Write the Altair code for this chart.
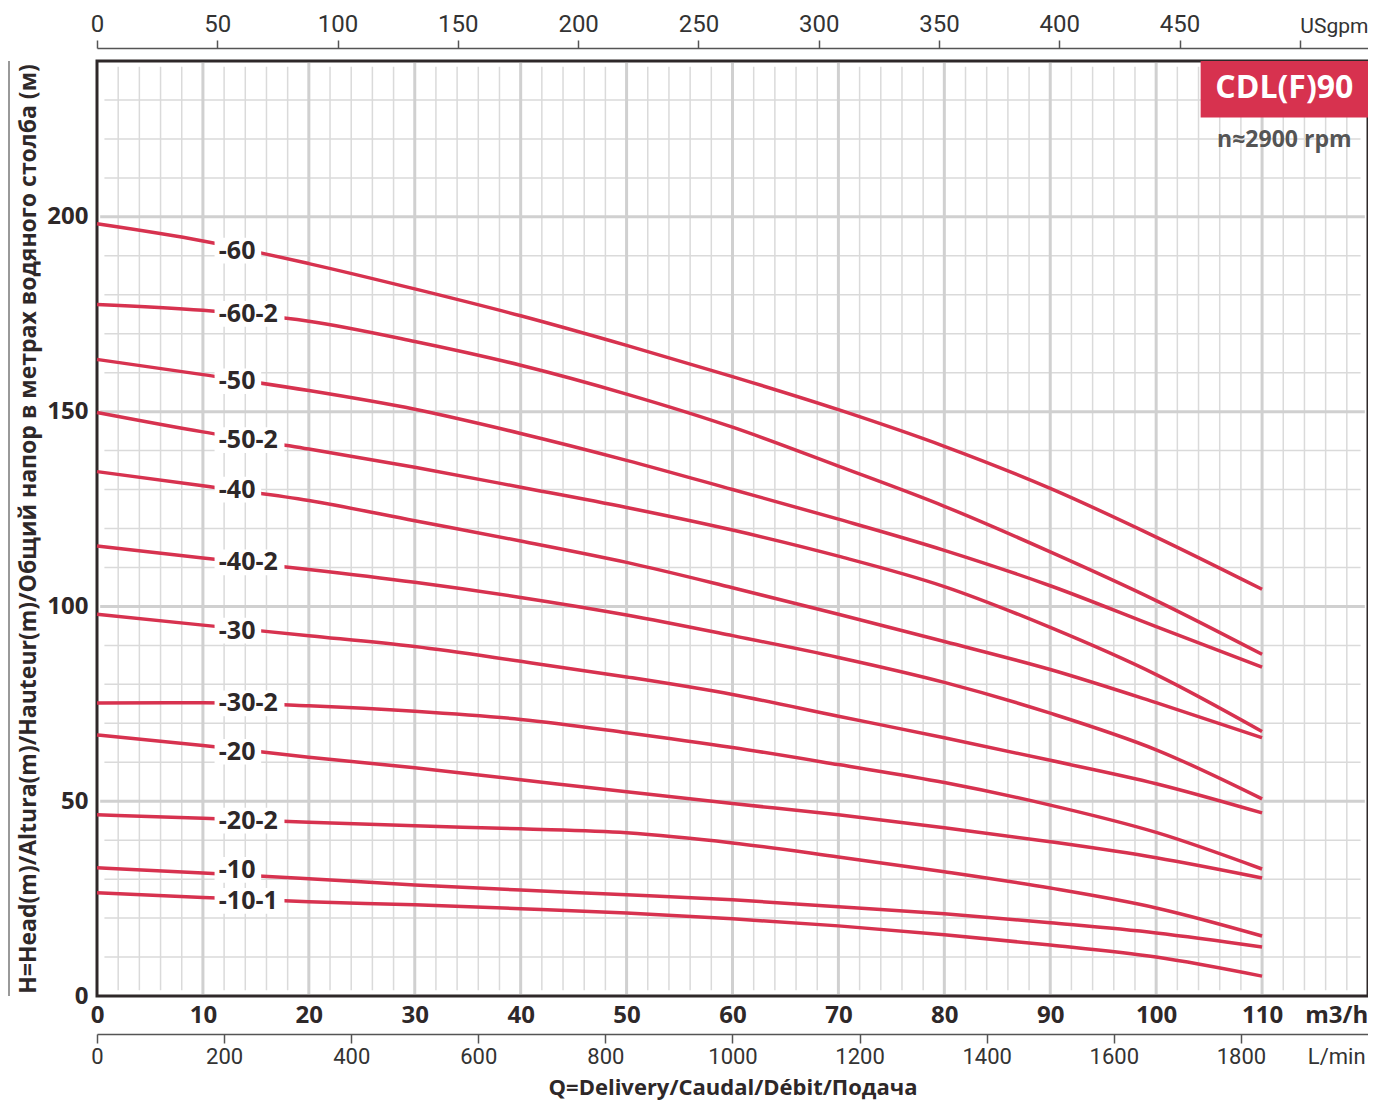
import altair as alt
import pandas as pd

# ---------------- data ----------------
Q_POINTS = [0, 10, 20, 30, 40, 50, 60, 70, 80, 90, 100, 110]  # m3/h
CURVES = ["-60", "-60-2", "-50", "-50-2", "-40", "-40-2",
          "-30", "-30-2", "-20", "-20-2", "-10", "-10-1"]
H_60   = [198.2, 193.8, 188.0, 181.5, 174.6, 167.0, 159.0, 150.5, 141.1, 130.3, 117.8, 104.4]
H_60_2 = [177.5, 176.0, 173.2, 168.0, 161.9, 154.5, 146.0, 136.0, 125.7, 114.0, 101.5, 87.7]
H_50   = [163.4, 159.5, 155.4, 150.6, 144.4, 137.5, 130.0, 122.4, 114.4, 105.3, 94.8, 84.4]
H_50_2 = [149.8, 144.8, 140.4, 135.7, 130.6, 125.4, 119.6, 112.9, 105.1, 94.6, 82.5, 67.9]
H_40   = [134.6, 131.0, 127.2, 122.0, 116.8, 111.3, 104.8, 98.0, 91.0, 83.8, 75.3, 66.3]
H_40_2 = [115.5, 112.4, 109.5, 106.2, 102.3, 97.8, 92.5, 86.9, 80.5, 72.6, 63.2, 50.6]
H_30   = [98.0, 95.2, 92.5, 89.7, 85.9, 81.9, 77.4, 71.8, 66.3, 60.5, 54.5, 47.0]
H_30_2 = [75.2, 75.3, 74.5, 73.1, 71.0, 67.6, 63.8, 59.4, 54.8, 49.0, 42.0, 32.6]
H_20   = [67.0, 64.3, 61.3, 58.6, 55.5, 52.4, 49.4, 46.5, 43.2, 39.6, 35.5, 30.3]
H_20_2 = [46.5, 45.6, 44.6, 43.7, 42.9, 41.9, 39.3, 35.7, 31.9, 27.7, 22.6, 15.4]
H_10   = [32.9, 31.6, 30.1, 28.5, 27.2, 26.0, 24.7, 22.9, 21.1, 18.8, 16.2, 12.6]
H_10_1 = [26.5, 25.3, 24.2, 23.4, 22.4, 21.3, 19.8, 18.0, 15.7, 13.1, 10.0, 5.1]
HEADS = [H_60, H_60_2, H_50, H_50_2, H_40, H_40_2, H_30, H_30_2, H_20, H_20_2, H_10, H_10_1]

LABEL_X = 11.5
LABEL_Y = [191.3, 175.1, 157.8, 142.7, 130.0, 111.3, 93.8, 75.1, 62.7, 45.0, 32.4, 24.4]

X_TICKS = [0, 10, 20, 30, 40, 50, 60, 70, 80, 90, 100, 110]
Y_TICKS = [0, 50, 100, 150, 200]
LMIN_TICKS = [0, 200, 400, 600, 800, 1000, 1200, 1400, 1600, 1800]
GPM_TICKS = [0, 50, 100, 150, 200, 250, 300, 350, 400, 450]
X_MAX, Y_MAX = 120, 240
M3H_TO_LMIN = 1000 / 60
M3H_TO_GPM = 4.40287

TITLE_BADGE = "CDL(F)90"
TITLE_RPM = "n≈2900 rpm"
Y_TITLE = "H=Head(m)/Altura(m)/Hauteur(m)/Общий напор в метрах водяного столба (м)"
X_TITLE = "Q=Delivery/Caudal/Débit/Подача"

RED = "#d7324f"
DARK = "#2e2829"
GRAY = "#555555"

# ---------------- tables ----------------
lines_df = pd.DataFrame(
    [{"q": q, "h": h, "curve": c} for c, hs in zip(CURVES, HEADS) for q, h in zip(Q_POINTS, hs)]
)
labels_df = pd.DataFrame({
    "name": CURVES,
    "lx": [LABEL_X] * len(CURVES),
    "ly": LABEL_Y,
    "bx0": [LABEL_X - 0.4] * len(CURVES),
    "bx1": [LABEL_X - 0.4 + 1.1 * (len(c) + 1) for c in CURVES],
    "by0": [y - 3.3 for y in LABEL_Y],
    "by1": [y + 3.3 for y in LABEL_Y],
})
v_minor = pd.DataFrame({"gx": [v for v in range(2, X_MAX, 2) if v % 10], "g0": 1.5, "g1": Y_MAX - 1.5})
v_major = pd.DataFrame({"gx": list(range(10, X_MAX, 10)), "g0": 0.5, "g1": Y_MAX - 0.5})
h_minor = pd.DataFrame({"gy": [v for v in range(10, Y_MAX, 10) if v % 50], "g0": 0.7, "g1": X_MAX - 0.7})
h_major = pd.DataFrame({"gy": list(range(50, Y_MAX, 50)), "g0": 0.3, "g1": X_MAX - 0.3})
badge_df = pd.DataFrame({"bx0": [104.2], "bx1": [X_MAX], "by0": [225.5], "by1": [Y_MAX],
                         "tx": [112.1], "ty": [233.0], "ry": [219.8],
                         "t1": [TITLE_BADGE], "t2": [TITLE_RPM]})

# ---------------- scales / axes ----------------
XS = alt.Scale(domain=[0, X_MAX], nice=False, zero=False)
YS = alt.Scale(domain=[0, Y_MAX], nice=False, zero=False)
X_AXIS = alt.Axis(
    orient="bottom", values=X_TICKS + [117],
    labelExpr="datum.value == 117 ? 'm3/h' : datum.label",
    domain=False, ticks=False, tickSize=0, grid=False,
    labelFont="Open Sans", labelFontWeight="bold", labelFontSize=24, labelColor=DARK,
    labelPadding=7, labelFlush=False, labelOverlap=False, title=None,
)
Y_AXIS = alt.Axis(
    values=Y_TICKS, domain=False, ticks=False, tickSize=0, grid=False,
    labelFont="Open Sans", labelFontWeight="bold", labelFontSize=24, labelColor=DARK,
    labelPadding=9, labelOverlap=False, title=Y_TITLE,
    titleFont="Open Sans", titleFontWeight="bold", titleFontSize=23, titleColor=DARK,
    titlePadding=6,
)


def xe(f):
    return alt.X(f, type="quantitative", scale=XS, axis=X_AXIS)


def ye(f):
    return alt.Y(f, type="quantitative", scale=YS, axis=Y_AXIS)


grid_vm = alt.Chart(v_minor).mark_rule(color="#dadada", strokeWidth=1.5).encode(
    x=xe("gx"), y=ye("g0"), y2=alt.Y2("g1"))
grid_vM = alt.Chart(v_major).mark_rule(color="#d0d0d0", strokeWidth=3).encode(
    x=xe("gx"), y=ye("g0"), y2=alt.Y2("g1"))
grid_hm = alt.Chart(h_minor).mark_rule(color="#dadada", strokeWidth=1.5).encode(
    y=ye("gy"), x=xe("g0"), x2=alt.X2("g1"))
grid_hM = alt.Chart(h_major).mark_rule(color="#d0d0d0", strokeWidth=3).encode(
    y=ye("gy"), x=xe("g0"), x2=alt.X2("g1"))

curves = alt.Chart(lines_df).mark_line(interpolate="monotone", color=RED, strokeWidth=3.5).encode(
    x=xe("q"), y=ye("h"), detail="curve:N")

boxes = alt.Chart(labels_df).mark_rect(color="white").encode(
    x=xe("bx0"), x2=alt.X2("bx1"), y=ye("by0"), y2=alt.Y2("by1"))
texts = alt.Chart(labels_df).mark_text(
    align="left", baseline="middle", font="Open Sans", fontWeight="bold",
    fontSize=25, color=DARK).encode(x=xe("lx"), y=ye("ly"), text="name:N")

badge = alt.Chart(badge_df).mark_rect(color=RED).encode(
    x=xe("bx0"), x2=alt.X2("bx1"), y=ye("by0"), y2=alt.Y2("by1"))
badge_t = alt.Chart(badge_df).mark_text(
    align="center", baseline="middle", font="Open Sans", fontWeight="bold",
    fontSize=32, color="white").encode(x=xe("tx"), y=ye("ty"), text="t1:N")
rpm_t = alt.Chart(badge_df).mark_text(
    align="center", baseline="middle", font="Open Sans", fontWeight="bold",
    fontSize=23, color=GRAY).encode(x=xe("tx"), y=ye("ry"), text="t2:N")

left_line = alt.Chart(pd.DataFrame({"k": [0]})).mark_rule(color="#777777", strokeWidth=1.5).encode(
    x=alt.value(-88), y=alt.value(0), y2=alt.value(935))

main = alt.layer(grid_hm, grid_vm, grid_hM, grid_vM, curves, boxes, texts,
                 badge, badge_t, rpm_t, left_line)

lmin_layer = alt.Chart(pd.DataFrame({"lmin": [0, X_MAX * M3H_TO_LMIN]})).mark_point(opacity=0).encode(
    x=alt.X("lmin:Q", scale=alt.Scale(domain=[0, X_MAX * M3H_TO_LMIN], nice=False, zero=False),
            axis=alt.Axis(
                orient="bottom", offset=38, values=LMIN_TICKS + [1950], format="d",
                labelExpr="datum.value == 1950 ? 'L/min' : datum.label",
                tickColor={"condition": {"test": "datum.value == 1950", "value": "transparent"},
                           "value": GRAY},
                tickSize=9, tickWidth=1.5, domainColor=GRAY, domainWidth=1.5, grid=False,
                labelFont="Roboto", labelFontSize=22, labelColor="#333333", labelPadding=3,
                labelFlush=False, labelOverlap=False,
                title=X_TITLE, titleFont="Open Sans", titleFontWeight="bold",
                titleFontSize=22, titleColor=DARK, titlePadding=10)))

gpm_layer = alt.Chart(pd.DataFrame({"gpm": [0, X_MAX * M3H_TO_GPM]})).mark_point(opacity=0).encode(
    x=alt.X("gpm:Q", scale=alt.Scale(domain=[0, X_MAX * M3H_TO_GPM], nice=False, zero=False),
            axis=alt.Axis(
                orient="top", offset=13, values=GPM_TICKS + [500],
                labelExpr="datum.value == 500 ? 'USgpm' : datum.label",
                labelAlign={"condition": {"test": "datum.value == 500", "value": "left"},
                            "value": "center"},
                labelFontSize={"condition": {"test": "datum.value == 500", "value": 21},
                               "value": 24},
                tickSize=8, tickWidth=1.5, tickColor=GRAY, domainColor=GRAY, domainWidth=1.5,
                grid=False, labelFont="Roboto", labelColor="#333333",
                labelPadding=4, labelFlush=False, labelOverlap=False, title=None)))

chart = (
    alt.layer(main, lmin_layer, gpm_layer)
    .resolve_scale(x="independent")
    .properties(width=1271, height=935,
                autosize=alt.AutoSizeParams(type="none"),
                padding={"left": 89, "top": 53, "right": 0, "bottom": 106})
    .configure_view(stroke="#2e2829", strokeWidth=3)
)

chart.save("out.html", embed_options={"renderer": "svg", "actions": False})
